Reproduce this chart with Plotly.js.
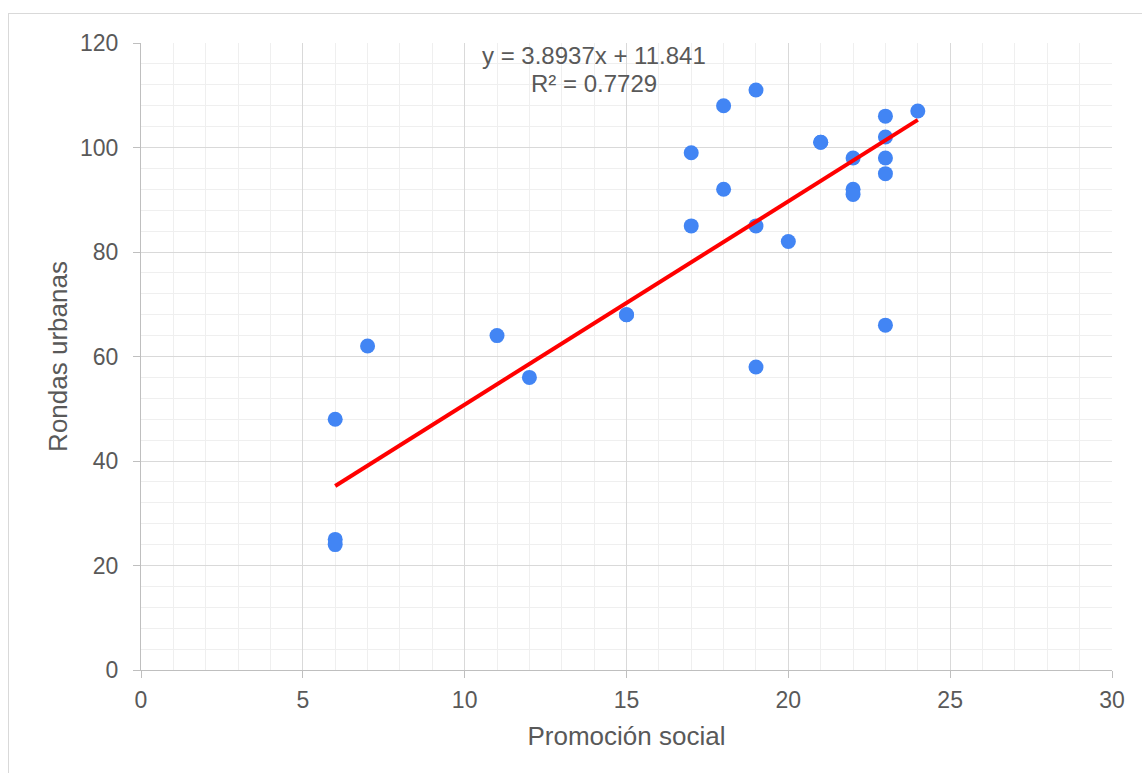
<!DOCTYPE html>
<html>
<head>
<meta charset="utf-8">
<script src="https://cdn.plot.ly/plotly-3.0.1.min.js"></script>
<style>
html,body{margin:0;padding:0;background:#fff;overflow:hidden;}
#frame{position:absolute;left:8px;top:13px;width:1300px;height:900px;border:1px solid #d9d9d9;box-sizing:border-box;}
#chart{position:absolute;left:0;top:0;width:1142px;height:773px;}
</style>
</head>
<body>
<div id="frame"></div>
<div id="chart"></div>
<script>
// Data
const promocionSocial = [6, 6, 6, 7, 11, 12, 15, 15, 17, 17, 18, 18, 19, 19, 19, 20, 21, 21, 22, 22, 22, 23, 23, 23, 23, 23, 24];
const rondasUrbanas   = [48, 25, 24, 62, 64, 56, 68, 68, 99, 85, 108, 92, 111, 85, 58, 82, 101, 101, 98, 92, 91, 106, 102, 98, 95, 66, 107];
const trendSlope = 3.8937;
const trendIntercept = 11.841;
const trendR2 = 0.7729;
const xTicks = [0, 5, 10, 15, 20, 25, 30];
const yTicks = [0, 20, 40, 60, 80, 100, 120];

const xMin = Math.min(...promocionSocial), xMax = Math.max(...promocionSocial);
const trendX = [xMin, xMax];
const trendY = trendX.map(v => trendSlope * v + trendIntercept);

const font = {family: '"Liberation Sans", Arial, sans-serif', color: '#595959'};

const traces = [
  {x: promocionSocial, y: rondasUrbanas, mode: 'markers', type: 'scatter',
   marker: {color: '#4285F4', size: 15}, hoverinfo: 'x+y', showlegend: false},
  {x: trendX, y: trendY, mode: 'lines', type: 'scatter',
   line: {color: '#FF0000', width: 4}, showlegend: false}
];

const layout = {
  width: 1142, height: 773,
  margin: {l: 141, r: 30, t: 43, b: 103, pad: 0},
  paper_bgcolor: 'rgba(0,0,0,0)', plot_bgcolor: '#ffffff',
  font: Object.assign({size: 23}, font),
  showlegend: false,
  xaxis: {
    range: [0, 30], tickvals: xTicks, ticktext: xTicks.map(String),
    showgrid: true, gridcolor: '#d9d9d9', gridwidth: 1,
    minor: {dtick: 1, showgrid: true, gridcolor: '#efefef', gridwidth: 1, ticks: ''},
    showline: true, linecolor: '#bfbfbf', linewidth: 1,
    ticks: 'outside', ticklen: 7, tickcolor: '#bfbfbf', tickwidth: 1,
    ticklabelstandoff: 2,
    zeroline: false,
    tickfont: Object.assign({size: 23}, font),
    title: {text: 'Promoción social', font: Object.assign({size: 26}, font), standoff: 15}
  },
  yaxis: {
    range: [0, 120], tickvals: yTicks, ticktext: yTicks.map(String),
    showgrid: true, gridcolor: '#d9d9d9', gridwidth: 1,
    minor: {dtick: 4, showgrid: true, gridcolor: '#efefef', gridwidth: 1, ticks: ''},
    showline: true, linecolor: '#bfbfbf', linewidth: 1,
    ticks: 'outside', ticklen: 7, tickcolor: '#bfbfbf', tickwidth: 1,
    ticklabelstandoff: 10,
    zeroline: false,
    tickfont: Object.assign({size: 23}, font),
    title: {text: 'Rondas urbanas', font: Object.assign({size: 26}, font), standoff: 4}
  },
  annotations: [
    {xref: 'x', yref: 'y', x: 14, y: 117.7, showarrow: false,
     text: 'y = ' + trendSlope + 'x + ' + trendIntercept,
     font: Object.assign({size: 24}, font), xanchor: 'center', yanchor: 'middle'},
    {xref: 'x', yref: 'y', x: 14, y: 112.3, showarrow: false,
     text: 'R² = ' + trendR2,
     font: Object.assign({size: 24}, font), xanchor: 'center', yanchor: 'middle'}
  ]
};

Plotly.newPlot('chart', traces, layout, {displayModeBar: false, staticPlot: true});
</script>
</body>
</html>
